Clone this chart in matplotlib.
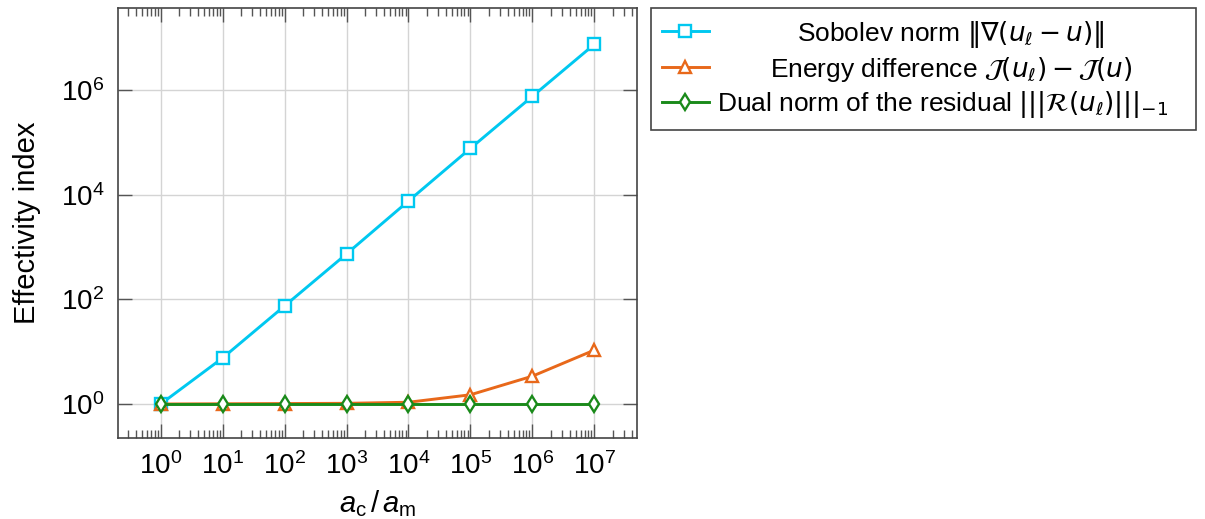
import matplotlib
matplotlib.use("Agg")
import matplotlib.pyplot as plt
from matplotlib.font_manager import FontProperties
from matplotlib.ticker import LogLocator, NullFormatter, FixedLocator

plt.rcParams['font.family'] = 'Liberation Sans'
plt.rcParams['mathtext.fontset'] = 'custom'
plt.rcParams['mathtext.rm'] = 'Liberation Sans'
plt.rcParams['mathtext.it'] = 'Liberation Sans:italic'
plt.rcParams['mathtext.bf'] = 'Liberation Sans:bold'

# contrast ratio a_c / a_m
ratio = [1e0, 1e1, 1e2, 1e3, 1e4, 1e5, 1e6, 1e7]
# effectivity indices
sobolev = [1.0, 7.6, 75, 740, 7600, 7.7e4, 7.6e5, 7.5e6]
energy = [1.0, 1.01, 1.02, 1.03, 1.08, 1.5, 3.4, 10.7]
dual = [1.0, 1.0, 1.0, 1.0, 1.0, 1.0, 1.0, 1.0]

labels = [r'Sobolev norm $\|\nabla(u_\ell - u)\|$',
          r'Energy difference $\mathcal{J}(u_\ell) - \mathcal{J}(u)$',
          r'Dual norm of the residual $|||\mathcal{R}(u_\ell)|||_{-1}$' + '   ']

fig = plt.figure(figsize=(12.05, 5.19), dpi=100)
ax = fig.add_axes([118/1205, 1-438/519, (637-118)/1205, (438-8)/519])

ax.plot(ratio, sobolev, color='#00C8F0', lw=2.1, marker='s', ms=8,
        mfc='white', mec='#00C8F0', mew=1.7, label=labels[0], zorder=3)
ax.plot(ratio, energy, color='#E8681A', lw=2.1, marker='^', ms=8.5,
        mfc='white', mec='#E8681A', mew=1.7, label=labels[1], zorder=4)
ax.plot(ratio, dual, color='#1A8A1A', lw=2.1, marker='d', ms=8.5,
        mfc='white', mec='#1A8A1A', mew=1.7, label=labels[2], zorder=5)

ax.set_xscale('log')
ax.set_yscale('log')
ax.set_xlim(10**-0.69, 10**7.69)
ax.set_ylim(10**-0.65, 10**7.57)

ax.xaxis.set_major_locator(FixedLocator(ratio))
ax.xaxis.set_minor_locator(LogLocator(base=10, subs=range(2, 10), numticks=30))
ax.xaxis.set_minor_formatter(NullFormatter())
ax.yaxis.set_major_locator(FixedLocator([1e0, 1e2, 1e4, 1e6]))
ax.yaxis.set_minor_locator(FixedLocator([]))

ax.grid(True, which='major', color='#d4d4d4', lw=1)
ax.set_axisbelow(True)
ax.tick_params(which='both', direction='in', top=True, right=True,
               color='#555555', labelsize=20, pad=10)
ax.tick_params(which='major', length=10, width=1)
ax.tick_params(which='minor', length=6, width=1)
for s in ax.spines.values():
    s.set_color('#444444')
    s.set_linewidth(1.2)

ax.set_xlabel(r'$a_{\mathrm{c}}\,/\,a_{\mathrm{m}}$', fontsize=21, labelpad=6)
ax.set_ylabel('Effectivity index', fontsize=21, labelpad=14)

leg_font = FontProperties(family='Liberation Sans', size=19, math_fontfamily='dejavusans')
leg = fig.legend(loc='upper left', bbox_to_anchor=(651/1205, 1-8/519),
                 borderaxespad=0, prop=leg_font, fancybox=False,
                 edgecolor='#444444', framealpha=1, handlelength=1.8,
                 handletextpad=0.3, labelspacing=0.2, borderpad=0.4)
leg.get_frame().set_linewidth(1.2)

# centre the legend entries like in the original
fig.canvas.draw()
r = fig.canvas.get_renderer()
texts = leg.get_texts()
widths = [t.get_window_extent(r).width for t in texts]
wmax = max(widths)
for t, w in zip(texts, widths):
    t.set_x((wmax - w) / 2)

fig.savefig('out.png', dpi=100)
